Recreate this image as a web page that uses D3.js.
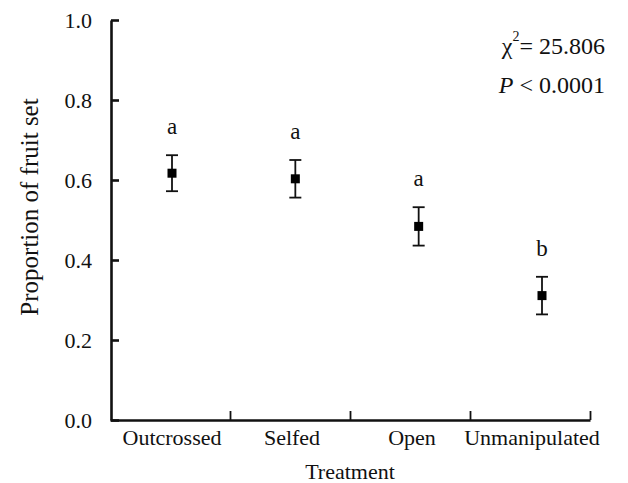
<!DOCTYPE html>
<html>
<head>
<meta charset="utf-8">
<script src="https://cdn.jsdelivr.net/npm/d3@7"></script>
<style>
  body { margin: 0; background: #fff; }
  svg, text, tspan { font-family: "Liberation Serif", "Times New Roman", serif; }
  text { fill: #111; }
</style>
</head>
<body>
<svg id="drawing_region"></svg>
<script>
// data
const categories = ["Outcrossed", "Selfed", "Open", "Unmanipulated"];
const means = [0.617, 0.603, 0.484, 0.311];
const errors = [0.045, 0.047, 0.048, 0.047];
const groups = ["a", "a", "a", "b"];
const yTicks = [0, 0.2, 0.4, 0.6, 0.8, 1.0];

const width = 628, height = 483;
const serif = '"Liberation Serif", "Times New Roman", serif';

const svg = d3.select('#drawing_region')
    .attr('width', width)
    .attr('height', height)
    .attr('font-family', serif);

// scales
const yscale = d3.scaleLinear().domain([0, 1]).range([420, 20]);
const xband = d3.scaleBand().domain(categories).range([110, 590]);
const xedge = d3.scaleLinear().domain([0, categories.length]).range([110, 590]);
const xpoint = d3.scalePoint().domain(categories).range([172, 542]);

// y axis, ticks pointing inward
const yaxis = d3.axisLeft(yscale)
    .tickValues(yTicks)
    .tickFormat(d3.format('.1f'))
    .tickSizeInner(-8)
    .tickSizeOuter(0)
    .tickPadding(19);

const yaxis_group = svg.append('g')
    .attr('transform', 'translate(111,0)')
    .call(yaxis)
    .attr('font-family', serif)
    .attr('font-size', 22);

yaxis_group.select('.domain').attr('stroke', '#111').attr('stroke-width', 2.6);
yaxis_group.selectAll('.tick line').attr('stroke', '#111').attr('stroke-width', 2.6);
yaxis_group.selectAll('.tick text')
    .attr('dy', '0.34em')
    .attr('fill', '#111');

// x axis with ticks at category edges
const xaxis = d3.axisBottom(xedge)
    .tickValues(d3.range(1, categories.length + 1))
    .tickFormat('')
    .tickSizeInner(-9)
    .tickSizeOuter(0);

const xaxis_group = svg.append('g')
    .attr('transform', 'translate(0,420)')
    .call(xaxis);

xaxis_group.select('.domain').attr('stroke', '#111').attr('stroke-width', 2.6);
xaxis_group.selectAll('.tick line').attr('stroke', '#111').attr('stroke-width', 1.8);

// category labels
svg.selectAll('.cat')
    .data(categories)
    .enter()
    .append('text')
    .attr('class', 'cat')
    .attr('x', d => xband(d) + xband.bandwidth() / 2 + 2)
    .attr('y', 445)
    .attr('text-anchor', 'middle')
    .attr('font-size', 22)
    .text(d => d);

// axis titles
svg.append('text')
    .attr('x', 350)
    .attr('y', 479)
    .attr('text-anchor', 'middle')
    .attr('font-size', 22)
    .text('Treatment');

svg.append('text')
    .attr('transform', 'translate(38,207) rotate(-90)')
    .attr('text-anchor', 'middle')
    .attr('font-size', 25)
    .text('Proportion of fruit set');

// error bars
const rows = categories.map((c, i) => ({ c: c, m: means[i], e: errors[i], g: groups[i] }));
const bars = svg.selectAll('.bar')
    .data(rows)
    .enter()
    .append('g')
    .attr('class', 'bar')
    .attr('stroke', '#111')
    .attr('stroke-width', 1.8);

bars.append('line')
    .attr('x1', d => xpoint(d.c)).attr('x2', d => xpoint(d.c))
    .attr('y1', d => yscale(d.m + d.e)).attr('y2', d => yscale(d.m - d.e));
bars.append('line')
    .attr('x1', d => xpoint(d.c) - 6).attr('x2', d => xpoint(d.c) + 6)
    .attr('y1', d => yscale(d.m + d.e)).attr('y2', d => yscale(d.m + d.e));
bars.append('line')
    .attr('x1', d => xpoint(d.c) - 6).attr('x2', d => xpoint(d.c) + 6)
    .attr('y1', d => yscale(d.m - d.e)).attr('y2', d => yscale(d.m - d.e));

// square markers
svg.selectAll('.pt')
    .data(rows)
    .enter()
    .append('rect')
    .attr('class', 'pt')
    .attr('x', d => xpoint(d.c) - 4.5)
    .attr('y', d => yscale(d.m) - 4.5)
    .attr('width', 9)
    .attr('height', 9)
    .attr('fill', '#000');

// significance letters
svg.selectAll('.grp')
    .data(rows)
    .enter()
    .append('text')
    .attr('class', 'grp')
    .attr('x', d => xpoint(d.c))
    .attr('y', d => yscale(d.m + d.e) - 21)
    .attr('text-anchor', 'middle')
    .attr('font-size', 23)
    .text(d => d.g);

// statistics
const stat = svg.append('text')
    .attr('x', 605)
    .attr('y', 54)
    .attr('text-anchor', 'end')
    .attr('font-size', 24);
stat.append('tspan').text('\u03c7');
stat.append('tspan').attr('font-size', 14).attr('dy', -13).text('2');
stat.append('tspan').attr('dy', 13).text('= 25.806');

const pt = svg.append('text')
    .attr('x', 605)
    .attr('y', 93)
    .attr('text-anchor', 'end')
    .attr('font-size', 24);
pt.append('tspan').attr('font-style', 'italic').text('P');
pt.append('tspan').text(' < 0.0001');
</script>
</body>
</html>
